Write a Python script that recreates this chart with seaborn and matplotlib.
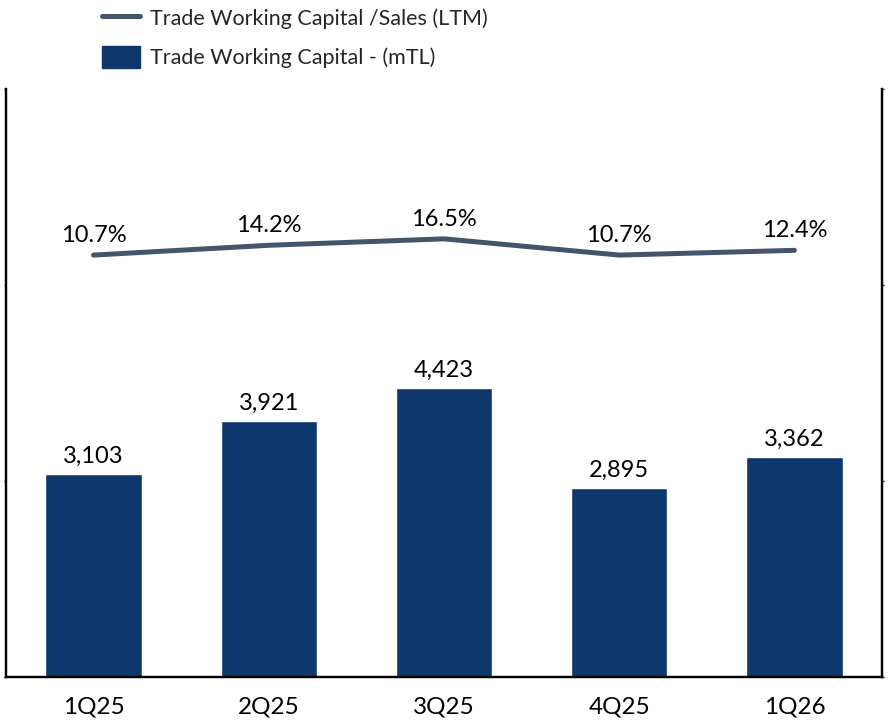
import matplotlib
matplotlib.use("Agg")
import matplotlib.pyplot as plt
import numpy as np
import pandas as pd
import seaborn as sns
from matplotlib.lines import Line2D
from matplotlib.patches import Patch

quarters = ['1Q25', '2Q25', '3Q25', '4Q25', '1Q26']
twc = [3103, 3921, 4423, 2895, 3362]
twc_sales = [10.7, 14.2, 16.5, 10.7, 12.4]

BAR = '#0E376B'
LINE = '#44546A'

sns.set_theme(style='white')
plt.rcParams['font.family'] = ['Lato', 'DejaVu Sans']

df = pd.DataFrame({'quarter': quarters, 'twc': twc, 'ratio': twc_sales})

fig = plt.figure(figsize=(8.91, 7.2), dpi=100)
ax = fig.add_axes([0.0067, 0.0597, 0.9832, 0.8166])

sns.barplot(data=df, x='quarter', y='twc', color=BAR, width=0.55, saturation=1, ax=ax)
ax.set_xlim(-0.5, 4.5)
ax.set_ylim(0, 9000)
ax.set_yticks([0, 3000, 6000, 9000])
ax.set_xlabel('')
ax.set_ylabel('')
ax.tick_params(axis='x', length=0, pad=14, labelsize=17.5, colors='black')
ax.tick_params(axis='y', length=1.5, width=1, pad=0.2, labelsize=1.2, labelcolor='#999999', left=True)
ax.yaxis.set_major_formatter(matplotlib.ticker.FuncFormatter(lambda v, p: f'{v:,.0f}'))
for i, v in enumerate(twc):
    ax.text(i, v + 110, f'{v:,}', ha='center', va='bottom', fontsize=17, color='black')

ax2 = ax.twinx()
sns.lineplot(x=np.arange(len(quarters)), y=df['ratio'] / 100, color=LINE, linewidth=3.6,
             solid_capstyle='round', ax=ax2)
ax2.set_ylim(-1.4, 0.7)
ax2.set_yticks([-1.4, -0.7, 0, 0.7])
ax2.set_ylabel('')
ax2.tick_params(axis='y', length=1.5, width=1, pad=0.2, labelsize=1.2, labelcolor='#999999', right=True)
ax2.yaxis.set_major_formatter(matplotlib.ticker.FuncFormatter(lambda v, p: f'{v:.0%}'))
for i, v in enumerate(twc_sales):
    ax2.text(i, v / 100 + 0.033, f'{v:.1f}%', ha='center', va='bottom', fontsize=17, color='black')

for a in (ax, ax2):
    for s in ('left', 'right', 'bottom'):
        a.spines[s].set_visible(True)
        a.spines[s].set_color('black')
        a.spines[s].set_linewidth(1.6)
    a.spines['top'].set_visible(False)

handles = [Line2D([0], [0], color=LINE, linewidth=3.6, solid_capstyle='round'),
           Patch(facecolor=BAR, edgecolor=BAR)]
labels = ['Trade Working Capital /Sales (LTM)', 'Trade Working Capital - (mTL)']
fig.legend(handles, labels, loc='upper left', bbox_to_anchor=(0.093, 1.018), frameon=False,
           fontsize=15.5, labelspacing=0.8, handlelength=1.75, handleheight=1.2, handletextpad=0.45)

fig.savefig('out.png', dpi=100)
